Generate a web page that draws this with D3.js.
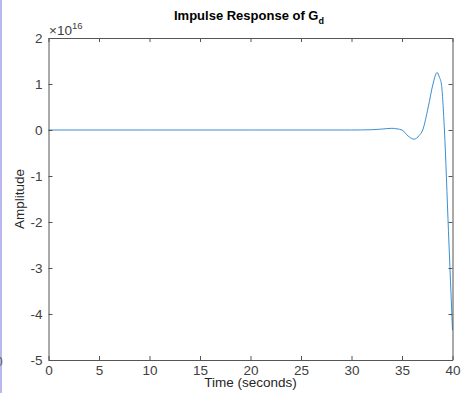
<!DOCTYPE html>
<html>
<head>
<meta charset="utf-8">
<script src="https://cdn.jsdelivr.net/npm/d3@7"></script>
<style>
body { margin: 0; background: #fff; }
svg { display: block; font-family: "Liberation Sans", Arial, sans-serif; }
</style>
</head>
<body>
<script>
var w = 462;
var h = 393;

// time (s) and amplitude (units of 1e16)
var times = [0, 5, 10, 15, 20, 25, 30, 31, 32, 33, 33.5, 34, 34.5, 35, 35.6, 36.2, 36.7, 37.05, 37.6, 38.07, 38.47, 38.7, 38.9, 39.2, 39.6, 40];
var amps  = [0, 0, 0, 0, 0, 0, 0, 0.002, 0.006, 0.02, 0.03, 0.037, 0.025, 0, -0.13, -0.2, -0.12, 0, 0.5, 1.0, 1.25, 1.15, 1.0, 0, -2.2, -4.35];

var xTicks = [0, 5, 10, 15, 20, 25, 30, 35, 40];
var yTicks = [-5, -4, -3, -2, -1, 0, 1, 2];

var margin = {left: 48.5, right: 9.5, top: 38, bottom: 33};

var svg = d3.select("body")
            .append("svg")
              .attr("width", w)
              .attr("height", h);

// thin purple strip at the left edge of the screenshot
svg.append("rect")
  .attr("x", 0).attr("y", 0)
  .attr("width", 2).attr("height", h)
  .attr("fill", "#b8b8ee");

svg.append("text")
  .attr("x", -4).attr("y", 366)
  .attr("font-size", 12).attr("fill", "#555")
  .text("0");

var x = d3.scaleLinear()
  .domain([0, 40])
  .range([margin.left, w - margin.right]);

var y = d3.scaleLinear()
  .domain([-5, 2])
  .range([h - margin.bottom, margin.top]);

var axisColor = "#555";
var fmt = function(d) { return String(d); }; // plain hyphen minus, like the original

//the response curve
var data = times.map(function(t, i) { return [t, amps[i]]; });

var line = d3.line()
  .x(function(d) { return x(d[0]); })
  .y(function(d) { return y(d[1]); })
  .curve(d3.curveMonotoneX);

svg.append("path")
  .datum(data)
  .attr("d", line)
  .attr("fill", "none")
  .attr("stroke", "#3a8fd0")
  .attr("stroke-width", 1);

// axes, ticks on all four sides pointing inward
function styleAxis(g) {
  g.select(".domain").attr("stroke", axisColor);
  g.selectAll(".tick line").attr("stroke", axisColor);
  g.selectAll(".tick text").attr("fill", "#404040").attr("font-size", 13.5);
}

svg.append("g")
  .attr("transform", "translate(0," + y(-5) + ")")
  .call(d3.axisBottom(x).tickValues(xTicks).tickSizeInner(-4).tickSizeOuter(0).tickPadding(5).tickFormat(fmt))
  .call(styleAxis);

svg.append("g")
  .attr("transform", "translate(0," + y(2) + ")")
  .call(d3.axisTop(x).tickValues(xTicks).tickSizeInner(-4).tickSizeOuter(0).tickFormat(""))
  .call(styleAxis);

svg.append("g")
  .attr("transform", "translate(" + x(0) + ",0)")
  .call(d3.axisLeft(y).tickValues(yTicks).tickSizeInner(-4).tickSizeOuter(0).tickPadding(6).tickFormat(fmt))
  .call(styleAxis);

svg.append("g")
  .attr("transform", "translate(" + x(40) + ",0)")
  .call(d3.axisRight(y).tickValues(yTicks).tickSizeInner(-4).tickSizeOuter(0).tickFormat(""))
  .call(styleAxis);

// exponent label
var ex = svg.append("text")
  .attr("x", 49).attr("y", 35)
  .attr("fill", "#404040")
  .attr("font-size", 13.5);
ex.append("tspan").text("\u00d710");
ex.append("tspan").attr("font-size", 9.5).attr("dy", -6).text("16");

// title
var title = svg.append("text")
  .attr("x", 249).attr("y", 20)
  .attr("text-anchor", "middle")
  .attr("font-weight", "bold")
  .attr("font-size", 13)
  .attr("fill", "#000");
title.append("tspan").text("Impulse Response of G");
title.append("tspan").attr("font-size", 9).attr("dy", 4).text("d");

svg.append("text")
  .attr("x", (x(0) + x(40)) / 2).attr("y", 387)
  .attr("text-anchor", "middle")
  .attr("font-size", 13.5)
  .attr("fill", "#262626")
  .text("Time (seconds)");

svg.append("text")
  .attr("transform", "translate(24," + (y(-5) + y(2)) / 2 + ") rotate(-90)")
  .attr("text-anchor", "middle")
  .attr("font-size", 13.5)
  .attr("fill", "#262626")
  .text("Amplitude");
</script>
</body>
</html>
